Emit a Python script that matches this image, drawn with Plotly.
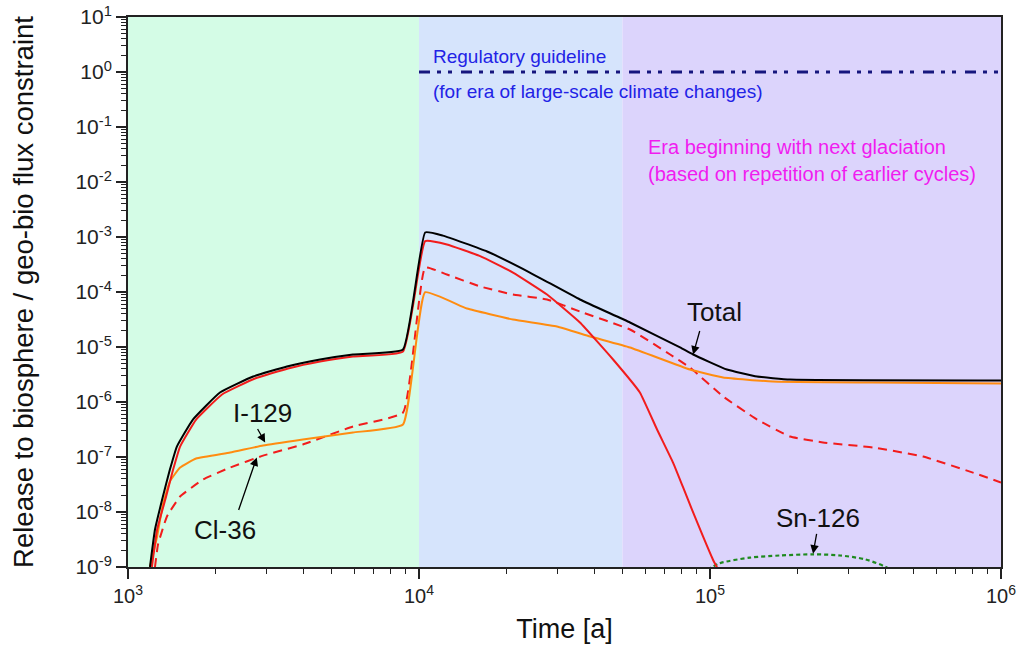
import math
import plotly.graph_objects as go

# ---- data: time [a] and release / geo-bio flux constraint ----
total_t = [1190, 1238, 1318, 1393, 1472, 1671, 2070, 2692, 3516, 4571, 5929, 8810,
           10500, 12080, 17140, 24040, 35730, 53090, 78890, 87500, 114300, 145200, 188400, 1000000]
total_v = [1e-9, 4.8e-9, 1.91e-8, 5.9e-8, 1.55e-7, 4.8e-7, 1.49e-6, 2.91e-6, 4.42e-6, 5.93e-6, 7.31e-6, 9.0e-6,
           1.21e-3, 1.06e-3, 5.45e-4, 2.26e-4, 7.31e-5, 2.79e-5, 9.8e-6, 7.31e-6, 3.9e-6, 2.91e-6, 2.56e-6, 2.46e-6]

red_t = [1208, 1259, 1352, 1429, 1510, 1714, 2104, 2731, 3548, 4571, 5929, 8810,
         10500, 12470, 16220, 21040, 27540, 35730, 46450, 57410, 65770, 74650, 80720, 87500,
         94630, 102300, 108100]
red_v = [1e-9, 4.8e-9, 1.91e-8, 5.9e-8, 1.55e-7, 4.8e-7, 1.37e-6, 2.67e-6, 4.07e-6, 5.45e-6, 6.7e-6, 8.3e-6,
         8.4e-4, 7.31e-4, 4.48e-4, 2.26e-4, 9.0e-5, 2.79e-5, 5.93e-6, 1.49e-6, 3.16e-7, 7.9e-8, 2.85e-8, 9.8e-9,
         3.59e-9, 1.37e-9, 7.9e-10]

cl36_t = [1238, 1268, 1361, 1510, 1811, 2244, 2911, 3990, 5929, 8810,
          10500, 12470, 16220, 21040, 27540, 35730, 53090, 72950, 85310, 110900, 145200,
          188400, 244300, 363100, 539800, 800900, 1000000]
cl36_v = [1e-9, 2.57e-9, 8.3e-9, 1.91e-8, 3.9e-8, 6.44e-8, 1.06e-7, 1.69e-7, 3.59e-7, 6.44e-7,
          2.79e-4, 2.08e-4, 1.26e-4, 9.0e-5, 7.31e-5, 4.42e-5, 2.08e-5, 7.31e-6, 4.24e-6, 1.26e-6, 4.8e-7,
          2.36e-7, 1.84e-7, 1.49e-7, 1.02e-7, 5.2e-8, 3.44e-8]

i129_t = [1190, 1259, 1318, 1393, 1510, 1714, 2244, 2911, 3990, 5929, 8810,
          10500, 14620, 21040, 29790, 38730, 53090, 85310, 110900, 164400, 363100, 1000000]
i129_v = [1e-9, 3.59e-9, 1.37e-8, 3.59e-8, 6.44e-8, 9.4e-8, 1.21e-7, 1.62e-7, 2.08e-7, 2.79e-7, 3.9e-7,
          9.9e-5, 5.0e-5, 3.16e-5, 2.36e-5, 1.55e-5, 9.8e-6, 3.9e-6, 2.79e-6, 2.36e-6, 2.26e-6, 2.17e-6]

sn126_t = [98000, 108100, 137100, 174200, 225900, 279900, 341200, 399000, 432500]
sn126_v = [8.9e-10, 1.17e-9, 1.48e-9, 1.62e-9, 1.70e-9, 1.62e-9, 1.38e-9, 1.02e-9, 7.9e-10]

guide_t = [1e4, 1e6]
guide_v = [1.0, 1.0]

# era boundaries [a]
era_edges = [1e3, 1e4, 5e4, 1e6]
era_colors = ["#d4fce6", "#d6e4fc", "#dcd4fc"]

# decade tick labels
x_exps = [3, 4, 5, 6]
y_exps = [-9, -8, -7, -6, -5, -4, -3, -2, -1, 0, 1]

FONT = "Liberation Sans, Arial, sans-serif"
L = math.log10


def curve(t, v, color, dash=None, width=2.0, smooth=0.35):
    return go.Scatter(x=t, y=v, mode="lines", line_shape="spline",
                      line=dict(color=color, width=width, dash=dash, smoothing=smooth))


fig = go.Figure()
fig.add_trace(go.Scatter(x=guide_t, y=guide_v, mode="lines",
                         line=dict(color="#16167e", width=3, dash="11px,7px,4px,7px,4px,9px")))
fig.add_trace(curve(sn126_t, sn126_v, "#1f8a1f", dash="4px,3px", width=2.2, smooth=0.8))
fig.add_trace(curve(cl36_t, cl36_v, "#f21c1c", dash="9px,6px"))
fig.add_trace(curve(i129_t, i129_v, "#ff8c10"))
fig.add_trace(curve(red_t, red_v, "#f21c1c"))
fig.add_trace(curve(total_t, total_v, "#000000"))

shapes = []
for i, c in enumerate(era_colors):
    shapes.append(dict(type="rect", xref="x", yref="paper",
                       x0=era_edges[i], x1=era_edges[i + 1],
                       y0=0, y1=1, fillcolor=c, line=dict(width=0), layer="below"))

annotations = [
    dict(x=L(1.1e4), y=L(1.9), xref="x", yref="y", text="Regulatory guideline",
         showarrow=False, xanchor="left", yanchor="middle",
         font=dict(family=FONT, size=19, color="#2222e6")),
    dict(x=L(1.1e4), y=L(0.44), xref="x", yref="y", text="(for era of large-scale climate changes)",
         showarrow=False, xanchor="left", yanchor="middle",
         font=dict(family=FONT, size=19, color="#2222e6")),
    dict(x=L(6.03e4), y=L(0.0442), xref="x", yref="y", text="Era beginning with next glaciation",
         showarrow=False, xanchor="left", yanchor="middle",
         font=dict(family=FONT, size=20, color="#f01cf0")),
    dict(x=L(6.03e4), y=L(0.0137), xref="x", yref="y", text="(based on repetition of earlier cycles)",
         showarrow=False, xanchor="left", yanchor="middle",
         font=dict(family=FONT, size=20, color="#f01cf0")),
]

# curve labels and pointers: (text, text pos, arrow tail, arrow head) as ([a], value)
labels = [
    ("Total", (1.04e5, 4.24e-5), (9.25e4, 2.08e-5), (8.75e4, 7.31e-6)),
    ("I-129", (2.91e3, 6.44e-7), (2.77e3, 3.44e-7), (2.96e3, 1.84e-7)),
    ("Cl-36", (2.15e3, 4.8e-9), (2.39e3, 1.02e-8), (2.77e3, 9.8e-8)),
    ("Sn-126", (2.35e5, 7.94e-9), (2.33e5, 4.24e-9), (2.26e5, 1.75e-9)),
]
for txt, tp, tail, head in labels:
    annotations.append(dict(x=L(tp[0]), y=L(tp[1]), xref="x", yref="y", text=txt,
                            showarrow=False, xanchor="center", yanchor="middle",
                            font=dict(family=FONT, size=26, color="#111111")))
    annotations.append(dict(x=L(head[0]), y=L(head[1]), ax=L(tail[0]), ay=L(tail[1]),
                            xref="x", yref="y", axref="x", ayref="y", text="",
                            showarrow=True, arrowhead=2, arrowsize=1.3, arrowwidth=1.3,
                            arrowcolor="#000000", standoff=0, startstandoff=0))

axis_common = dict(
    type="log", showgrid=False, zeroline=False, automargin=False,
    showline=True, linecolor="#222222", linewidth=2, mirror=True,
    ticks="outside", ticklen=10, tickwidth=1.5, tickcolor="#222222",
    minor=dict(ticks="outside", ticklen=5, tickwidth=1.2, tickcolor="#222222",
               dtick="D1", showgrid=False),
)

fig.update_layout(
    width=1019, height=648,
    margin=dict(l=128, r=18, t=17, b=81),
    paper_bgcolor="white", plot_bgcolor="white",
    showlegend=False,
    shapes=shapes, annotations=annotations,
    xaxis=dict(axis_common, range=[3, 6],
               tickvals=[10 ** e for e in x_exps],
               ticktext=[f"10<sup>{e}</sup>" for e in x_exps],
               tickfont=dict(family=FONT, size=20, color="#222222"),
               title=dict(text="Time [a]", standoff=13,
                          font=dict(family=FONT, size=27, color="#111111"))),
    yaxis=dict(axis_common, range=[-9, 1],
               tickvals=[10.0 ** e for e in y_exps],
               ticktext=[f"10<sup>{e}</sup>" for e in y_exps],
               tickfont=dict(family=FONT, size=21, color="#222222"),
               title=dict(text="Release to biosphere / geo-bio flux constraint", standoff=34,
                          font=dict(family=FONT, size=27.5, color="#111111"))),
)

fig.write_html("out.html")
